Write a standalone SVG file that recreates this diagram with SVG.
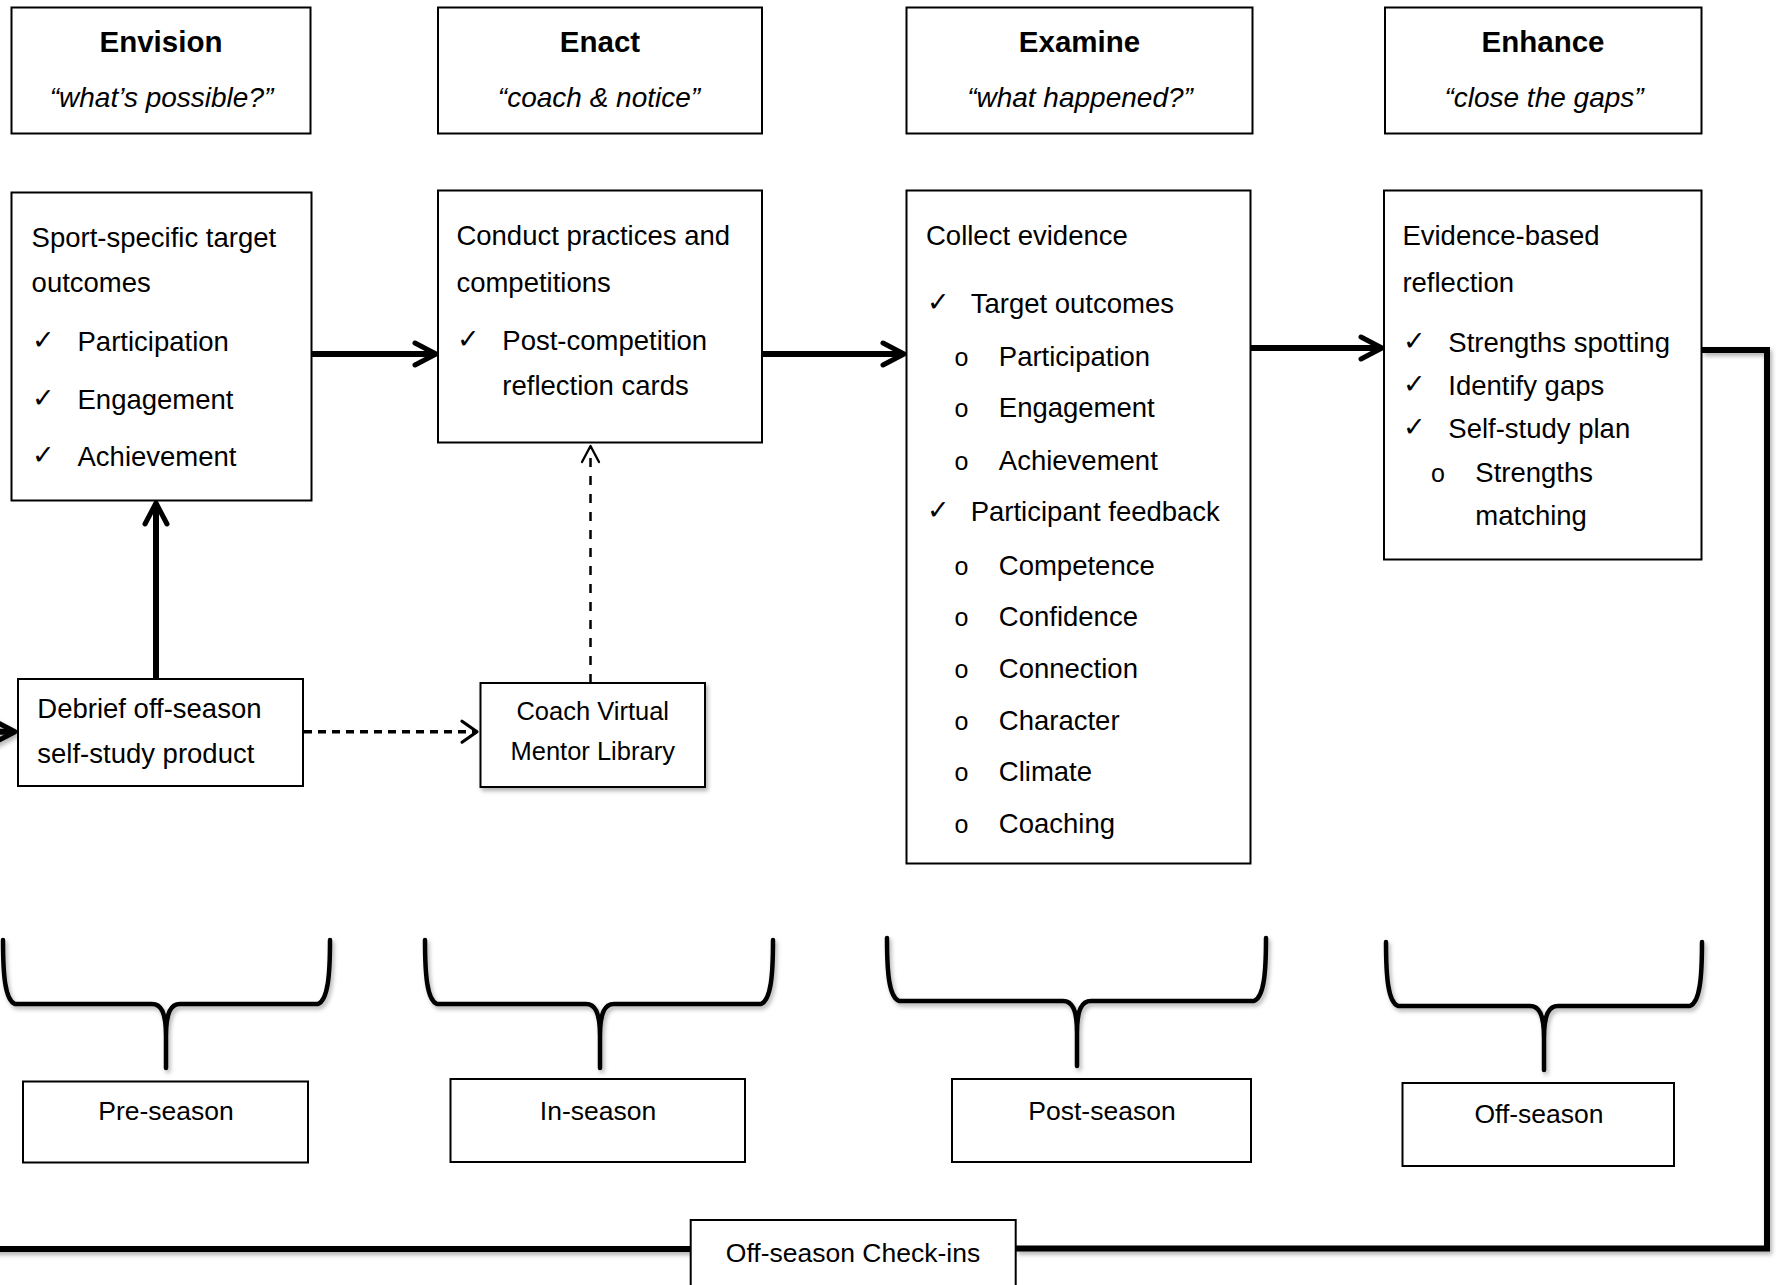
<svg xmlns="http://www.w3.org/2000/svg" width="1781" height="1285" viewBox="0 0 1781 1285">
<defs>
<style>
.box{fill:#fff;stroke:#000;stroke-width:2}
.t{font-family:"Liberation Sans",Arial,sans-serif;font-size:27.5px;fill:#000}
.title{font-weight:bold;font-size:29.5px;text-anchor:middle}
.sub{font-style:italic;font-size:28px;text-anchor:middle}
.chk{font-family:"DejaVu Sans",sans-serif;font-size:27px;fill:#000}
.bul{font-size:25px}
.season{font-size:26.5px;text-anchor:middle}
.cv{font-size:25.5px;text-anchor:middle}
.thick{stroke:#000;stroke-width:6;fill:none}
.dashH{stroke:#000;stroke-width:3.5;stroke-dasharray:8 6;fill:none}
.dashV{stroke:#000;stroke-width:2.5;stroke-dasharray:9 9;fill:none}
.brace{stroke:#000;stroke-width:4.5;fill:none;stroke-linecap:round;stroke-linejoin:round}
</style>
<filter id="sh" x="-10%" y="-10%" width="130%" height="140%">
<feDropShadow dx="2" dy="3" stdDeviation="2" flood-color="#000" flood-opacity="0.3"/>
</filter>
<marker id="arrowThick" viewBox="-30 -16 36 32" markerWidth="36" markerHeight="32" refX="0" refY="0" markerUnits="userSpaceOnUse" orient="auto" overflow="visible">
<path d="M-18,-11 L3,0 L-18,11" fill="none" stroke="#000" stroke-width="5" stroke-linejoin="round" stroke-linecap="round"/>
</marker>
<marker id="arrowDashH" viewBox="-20 -14 24 28" markerWidth="24" markerHeight="28" refX="0" refY="0" markerUnits="userSpaceOnUse" orient="auto" overflow="visible">
<path d="M-15,-10.5 L0,0 L-15,10.5" fill="none" stroke="#000" stroke-width="3.2" stroke-linejoin="round" stroke-linecap="round"/>
</marker>
<marker id="arrowDashV" viewBox="-20 -12 24 24" markerWidth="24" markerHeight="24" refX="0" refY="0" markerUnits="userSpaceOnUse" orient="auto" overflow="visible">
<path d="M-16,-8.5 L0,0 L-16,8.5" fill="none" stroke="#000" stroke-width="2.3" stroke-linejoin="round" stroke-linecap="round"/>
</marker>
</defs>
<rect x="0" y="0" width="1781" height="1285" fill="#fff"/>

<g id="connectors">
<line class="thick" x1="312" y1="354" x2="433" y2="354" marker-end="url(#arrowThick)"/>
<line class="thick" x1="762" y1="354" x2="901" y2="354" marker-end="url(#arrowThick)"/>
<line class="thick" x1="1251" y1="348" x2="1379" y2="348" marker-end="url(#arrowThick)"/>
<line class="thick" x1="156" y1="679" x2="156" y2="506" marker-end="url(#arrowThick)"/>
<g filter="url(#sh)">
<path class="thick" d="M1702,350 H1767 V1248.5 H1016"/>
<path class="thick" d="M691,1249 H-20 V731.7 H12" marker-end="url(#arrowThick)"/>
</g>
<line class="dashH" x1="304" y1="731.7" x2="477" y2="731.7" marker-end="url(#arrowDashH)"/>
<line class="dashV" x1="590.5" y1="683" x2="590.5" y2="446" marker-end="url(#arrowDashV)"/>
<g filter="url(#sh)">
<path class="brace" d="M3,940 C3,975 5,1000 15,1004 L152,1004 C161,1004 166,1012 166,1036 L166,1068 M330,940 C330,975 328,1000 318,1004 L180,1004 C171,1004 166,1012 166,1036"/>
<path class="brace" d="M425,940 C425,975 427,1000 437,1004 L586,1004 C595,1004 600,1012 600,1036 L600,1068 M773,940 C773,975 771,1000 761,1004 L614,1004 C605,1004 600,1012 600,1036"/>
<path class="brace" d="M887,938 C887,973 889,997 899,1001 L1063,1001 C1072,1001 1077,1009 1077,1033 L1077,1066 M1266,938 C1266,973 1264,997 1254,1001 L1091,1001 C1082,1001 1077,1009 1077,1033"/>
<path class="brace" d="M1386,942 C1386,977 1388,1002 1398,1006 L1530,1006 C1539,1006 1544,1014 1544,1038 L1544,1070 M1702,942 C1702,977 1700,1002 1690,1006 L1558,1006 C1549,1006 1544,1014 1544,1038"/>
</g>
</g>

<g id="envision">
<rect class="box" x="11.5" y="7.5" width="299" height="126"/>
<text class="t title" x="161" y="52">Envision</text>
<text class="t sub" x="161.5" y="107">“what’s possible?”</text>
</g>
<g id="enact">
<rect class="box" x="438" y="7.5" width="324" height="126"/>
<text class="t title" x="600" y="52">Enact</text>
<text class="t sub" x="599" y="107">“coach &amp; notice”</text>
</g>
<g id="examine">
<rect class="box" x="906.5" y="7.5" width="346" height="126"/>
<text class="t title" x="1079.5" y="52">Examine</text>
<text class="t sub" x="1080" y="107">“what happened?”</text>
</g>
<g id="enhance">
<rect class="box" x="1385" y="7.5" width="316.5" height="126"/>
<text class="t title" x="1543" y="52">Enhance</text>
<text class="t sub" x="1544" y="107">“close the gaps”</text>
</g>

<g id="target-outcomes">
<rect class="box" x="11.5" y="192.5" width="300" height="308"/>
<text class="t" x="31.6" y="247">Sport-specific target</text>
<text class="t" x="31.6" y="292">outcomes</text>
<text class="chk" x="32" y="349">✓</text><text class="t" x="77.5" y="351">Participation</text>
<text class="chk" x="32" y="407">✓</text><text class="t" x="77.5" y="409">Engagement</text>
<text class="chk" x="32" y="464">✓</text><text class="t" x="77.5" y="466">Achievement</text>
</g>

<g id="conduct">
<rect class="box" x="438" y="190.5" width="324" height="252"/>
<text class="t" x="456.4" y="245">Conduct practices and</text>
<text class="t" x="456.4" y="292">competitions</text>
<text class="chk" x="457" y="348">✓</text><text class="t" x="502.3" y="350">Post-competition</text>
<text class="t" x="502.3" y="395">reflection cards</text>
</g>

<g id="collect-evidence">
<rect class="box" x="906.5" y="190.5" width="344" height="673"/>
<text class="t" x="926" y="245">Collect evidence</text>
<text class="chk" x="927" y="311">✓</text><text class="t" x="970.7" y="313">Target outcomes</text>
<text class="t bul" x="954.6" y="366">o</text><text class="t" x="998.8" y="366">Participation</text>
<text class="t bul" x="954.6" y="417">o</text><text class="t" x="998.8" y="417">Engagement</text>
<text class="t bul" x="954.6" y="470">o</text><text class="t" x="998.8" y="470">Achievement</text>
<text class="chk" x="927" y="519">✓</text><text class="t" x="970.7" y="521">Participant feedback</text>
<text class="t bul" x="954.6" y="575">o</text><text class="t" x="998.8" y="575">Competence</text>
<text class="t bul" x="954.6" y="626">o</text><text class="t" x="998.8" y="626">Confidence</text>
<text class="t bul" x="954.6" y="678">o</text><text class="t" x="998.8" y="678">Connection</text>
<text class="t bul" x="954.6" y="730">o</text><text class="t" x="998.8" y="730">Character</text>
<text class="t bul" x="954.6" y="781">o</text><text class="t" x="998.8" y="781">Climate</text>
<text class="t bul" x="954.6" y="833">o</text><text class="t" x="998.8" y="833">Coaching</text>
</g>

<g id="reflection">
<rect class="box" x="1384" y="190.5" width="317.5" height="369"/>
<text class="t" x="1402.4" y="245">Evidence-based</text>
<text class="t" x="1402.4" y="292">reflection</text>
<text class="chk" x="1403" y="350">✓</text><text class="t" x="1448.3" y="352">Strengths spotting</text>
<text class="chk" x="1403" y="393">✓</text><text class="t" x="1448.3" y="395">Identify gaps</text>
<text class="chk" x="1403" y="436">✓</text><text class="t" x="1448.3" y="438">Self-study plan</text>
<text class="t bul" x="1431" y="482">o</text><text class="t" x="1475.3" y="482">Strengths</text>
<text class="t" x="1475.3" y="525">matching</text>
</g>

<g id="debrief">
<rect class="box" x="18" y="679" width="285" height="107"/>
<text class="t" x="37.3" y="718">Debrief off-season</text>
<text class="t" x="37.3" y="763">self-study product</text>
</g>

<g id="coach-library">
<rect class="box" x="480.5" y="683" width="224.5" height="104" filter="url(#sh)"/>
<text class="t cv" x="592.7" y="720">Coach Virtual</text>
<text class="t cv" x="592.7" y="760">Mentor Library</text>
</g>

<g id="pre-season">
<rect class="box" x="23" y="1081.5" width="285" height="81"/>
<text class="t season" x="166" y="1120">Pre-season</text>
</g>
<g id="in-season">
<rect class="box" x="450.5" y="1079" width="294.5" height="83"/>
<text class="t season" x="598" y="1120">In-season</text>
</g>
<g id="post-season">
<rect class="box" x="952" y="1079" width="299" height="83"/>
<text class="t season" x="1102" y="1120">Post-season</text>
</g>
<g id="off-season">
<rect class="box" x="1402.5" y="1083" width="271.5" height="83"/>
<text class="t season" x="1539" y="1123">Off-season</text>
</g>
<g id="check-ins">
<rect class="box" x="690.7" y="1220" width="325" height="80"/>
<text class="t season" x="853" y="1261.7">Off-season Check-ins</text>
</g>
</svg>
